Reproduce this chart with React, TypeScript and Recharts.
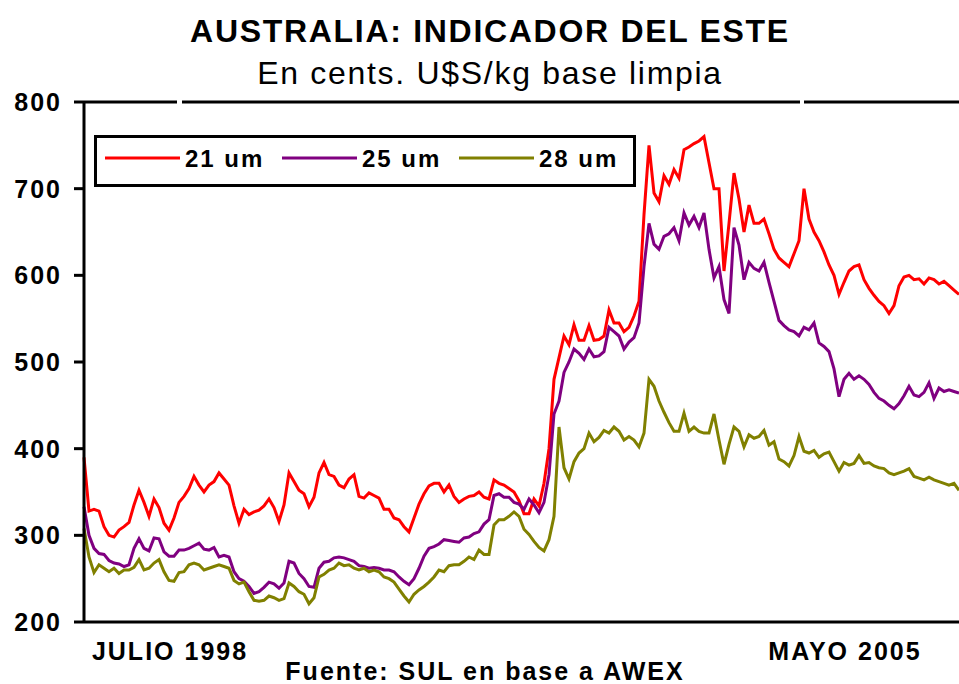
import React from 'react';
import { LineChart, Line, XAxis, YAxis, ReferenceLine } from 'recharts';

// weekly prices, US cents/kg clean, July 1998 -> May 2005
const micron21 = [
  390, 328, 330, 328, 310, 300, 298, 306, 310, 315,
  335, 352, 338, 322, 342, 332, 314, 306, 320, 338,
  345, 354, 368, 358, 350, 358, 362, 372, 365, 358,
  334, 314, 330, 324, 327, 329, 334, 342, 332, 316,
  335, 372, 362, 352, 348, 333, 344, 372, 384, 370,
  368, 358, 355, 365, 370, 345, 343, 349, 346, 343,
  330, 330, 320, 318, 310, 304, 320, 336, 348, 357,
  360, 360, 350, 358, 345, 338, 342, 345, 346, 350,
  344, 342, 364, 360, 358, 354, 350, 340, 325, 325,
  342, 334, 360, 400, 480, 505, 530, 520, 543, 525,
  525, 542, 525, 526, 530, 560, 545, 545, 535, 540,
  553, 570, 670, 750, 695, 685, 715, 705, 722, 712,
  745, 748, 752, 755, 760, 730, 700, 700, 605, 660,
  718, 688, 650, 681, 660, 660, 665, 648, 630, 620,
  615, 610, 625, 640, 700, 665, 650, 640, 627, 612,
  600, 578, 592, 605, 610, 612, 595, 585, 577, 570,
  565, 556, 565, 588, 598, 600, 595, 596, 590, 597,
  595, 590, 593, 588, 583, 578,
];

const micron25 = [
  333, 300, 285, 279, 278, 271, 268, 267, 264, 266,
  285, 296, 285, 282, 297, 296, 281, 276, 276, 283,
  283, 285, 288, 291, 284, 283, 286, 275, 277, 275,
  258, 250, 247, 241, 233, 235, 240, 246, 244, 239,
  245, 270, 268, 256, 250, 241, 240, 262, 269, 270,
  274, 275, 274, 272, 270, 265, 264, 262, 263, 262,
  260, 260, 258, 252, 247, 243, 250, 262, 276, 285,
  287, 290, 295, 294, 293, 292, 297, 298, 302, 304,
  313, 318, 346, 348, 344, 344, 338, 336, 330, 342,
  335, 326, 338, 370, 440, 455, 488, 500, 515, 510,
  503, 515, 506, 507, 512, 540, 535, 530, 515, 523,
  528, 545, 610, 660, 636, 630, 645, 648, 655, 640,
  672, 658, 668, 655, 672, 630, 597, 610, 572, 556,
  655, 635, 595, 615, 608, 605, 615, 592, 570, 548,
  542, 537, 535, 530, 540, 537, 545, 522, 518, 512,
  492, 460, 480, 487, 480, 484, 480, 474, 465, 458,
  455, 450, 446, 452, 461, 472, 462, 460, 465, 476,
  458, 470, 466, 468, 466, 464,
];

const micron28 = [
  308, 275, 257, 266, 262, 258, 262, 256, 260, 260,
  263, 272, 260, 262, 268, 272, 258, 248, 247, 257,
  258, 266, 268, 266, 260, 262, 264, 266, 264, 262,
  248, 244, 246, 235, 225, 224, 225, 230, 228, 225,
  227, 245, 241, 235, 232, 221, 228, 252, 255, 260,
  262, 268, 265, 266, 262, 260, 262, 258, 260, 258,
  252, 250, 246, 238, 230, 223, 232, 237, 241, 246,
  252, 260, 258, 265, 266, 266, 270, 275, 272, 283,
  278, 278, 312, 318, 318, 322, 327, 322, 307, 301,
  293, 286, 282, 295, 322, 425, 378, 365, 385, 395,
  400, 418, 408, 413, 421, 418, 425, 420, 410, 414,
  410, 402, 418, 480, 472, 455, 442, 430, 420, 420,
  441, 420, 425, 420, 418, 418, 440, 410, 382, 405,
  425, 420, 402, 416, 412, 414, 421, 404, 408, 388,
  385, 380, 392, 414, 397, 395, 398, 390, 394, 396,
  385, 374, 384, 381, 383, 392, 383, 384, 380, 378,
  377, 372, 370, 372, 374, 377, 368, 366, 364, 367,
  364, 362, 360, 358, 360, 352,
];

const yTicks = [200, 300, 400, 500, 600, 700, 800];
const xMarks = [17.2, 152.2];
const xMarkLabels = ['JULIO 1998', 'MAYO 2005'];
const names = ['21 um', '25 um', '28 um'];
const colors = ['#ff0000', '#800080', '#808000'];

const data = micron21.map((v, i) => ({ w: i, m21: v, m25: micron25[i], m28: micron28[i] }));

const FONT = 'Arial, "Liberation Sans", sans-serif';

const XTick = (props: any) => {
  const { x, y, payload } = props;
  const idx = xMarks.indexOf(payload.value);
  return (
    <text x={x} y={y} dy={38} textAnchor="middle" fontSize={25} fontWeight={700}
      letterSpacing={2} fill="#000" fontFamily={FONT}>
      {xMarkLabels[idx] ?? ''}
    </text>
  );
};

export default function App() {
  return (
    <div style={{ position: 'absolute', left: 0, top: 0, width: 959, height: 684, background: '#fff', fontFamily: FONT, overflow: 'hidden' }}>
      <div style={{ position: 'absolute', left: 0, top: 15, width: 980, textAlign: 'center', fontSize: 32, lineHeight: '32px', fontWeight: 700, letterSpacing: 1.7 }}>
        AUSTRALIA: INDICADOR DEL ESTE
      </div>
      <div style={{ position: 'absolute', left: 0, top: 57, width: 980, textAlign: 'center', fontSize: 32, lineHeight: '32px', letterSpacing: 1.7 }}>
        En cents. U$S/kg base limpia
      </div>

      <div style={{ position: 'absolute', left: 0, top: 0 }}>
        <LineChart width={959} height={684} data={data} margin={{ top: 102, right: 0, bottom: 32, left: 0 }}>
          <XAxis dataKey="w" type="number" domain={[0, micron21.length - 1]} ticks={xMarks}
            tick={<XTick />} tickLine={false} tickSize={0} tickMargin={0} height={30}
            axisLine={{ stroke: '#000', strokeWidth: 3 }} />
          <YAxis domain={[200, 800]} ticks={yTicks} width={84} tickSize={10} tickMargin={12}
            axisLine={{ stroke: '#000', strokeWidth: 3 }} tickLine={{ stroke: '#000', strokeWidth: 3 }}
            tick={{ fill: '#000', fontSize: 25, fontWeight: 700, letterSpacing: 2, fontFamily: FONT }} />
          <ReferenceLine y={800} stroke="#000" strokeWidth={3} strokeDasharray="93 5 618 4 200" />
          <Line dataKey="m21" stroke={colors[0]} strokeWidth={3} dot={false} isAnimationActive={false} />
          <Line dataKey="m25" stroke={colors[1]} strokeWidth={3} dot={false} isAnimationActive={false} />
          <Line dataKey="m28" stroke={colors[2]} strokeWidth={3} dot={false} isAnimationActive={false} />
        </LineChart>
      </div>

      <div style={{ position: 'absolute', left: 94, top: 135, width: 536, height: 46, border: '3px solid #000', background: '#fff' }}>
        <svg width={536} height={46} style={{ display: 'block' }}>
          {names.map((n, i) => (
            <g key={n}>
              <line x1={8 + i * 177} x2={83 + i * 177} y1={20} y2={20} stroke={colors[i]} strokeWidth={3} />
              <text x={88 + i * 177} y={29} fontSize={24} fontWeight={700} letterSpacing={2} fontFamily={FONT} fill="#000">{n}</text>
            </g>
          ))}
        </svg>
      </div>

      <div style={{ position: 'absolute', left: 0, top: 659, width: 970, textAlign: 'center', fontSize: 25, lineHeight: '25px', fontWeight: 700, letterSpacing: 2 }}>
        Fuente: SUL en base a AWEX
      </div>
    </div>
  );
}
